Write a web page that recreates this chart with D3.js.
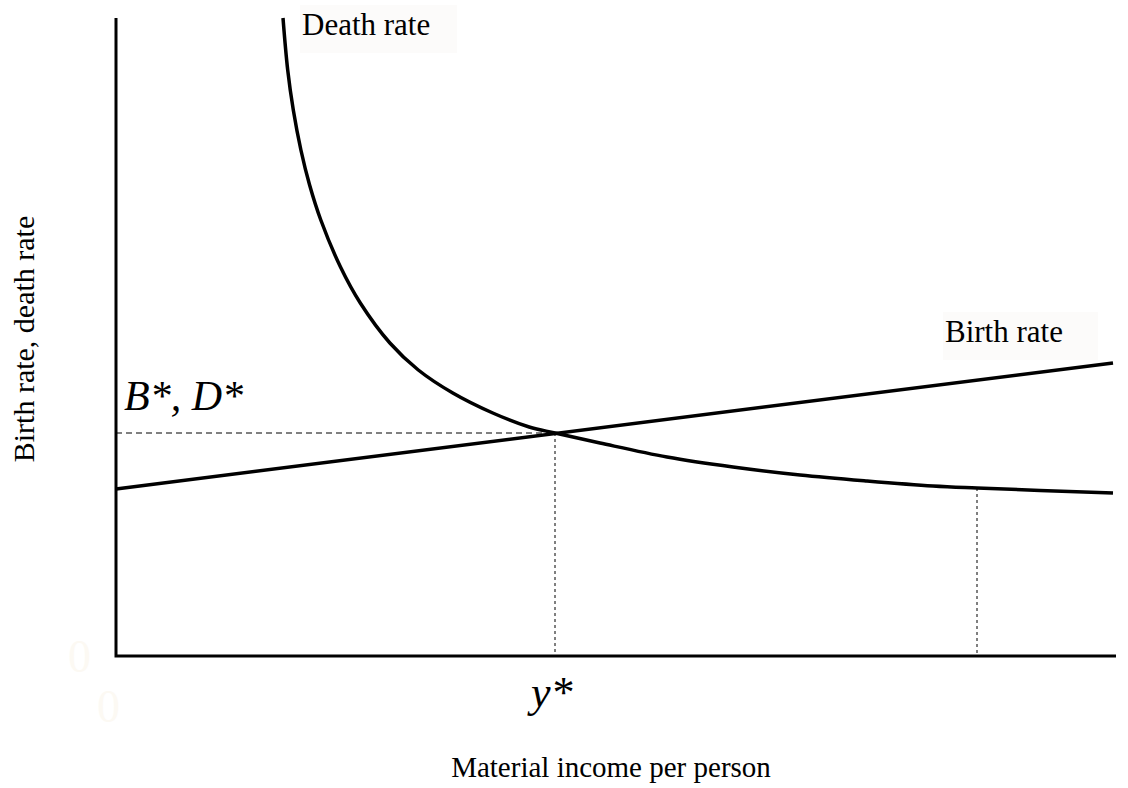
<!DOCTYPE html>
<html>
<head>
<meta charset="utf-8">
<script src="https://cdn.jsdelivr.net/npm/d3@7"></script>
<style>
  body { margin: 0; background: #fff; }
  svg { display: block; font-family: "Liberation Serif", "DejaVu Serif", serif; }
</style>
</head>
<body>
<svg class="chart" width="1128" height="788"></svg>
<script>
// income (x) and rate (y) in arbitrary units
var deathIncome = [16.7, 17.17, 17.73, 18.49, 19.36, 20.48, 22.45, 24.43, 27.39, 30.23, 33.68, 37.68, 41.32, 43.9, 48.4, 55.1, 61.7, 68.4, 75.1, 81.7, 86.1, 99.7];
var deathRate   = [63.8, 58.6, 54.6, 50.6, 47.1, 43.6, 38.9, 35.3, 31.3, 28.6, 26.3, 24.3, 22.9, 22.3, 21.3, 19.9, 18.9, 18.1, 17.5, 17.0, 16.8, 16.3];
var birthIncome = [0, 99.7];
var birthRate   = [16.7, 29.3];
var yStar = 43.9, rateStar = 22.3;
var yHigh = 86.1, rateHigh = 16.8;

var svg = d3.select("svg.chart");

var x = d3.scaleLinear().domain([0, 100]).range([116, 1116]),
    y = d3.scaleLinear().domain([0, 64]).range([656, 16]);

var line = d3.line()
    .x(function(d) { return x(d[0]); })
    .y(function(d) { return y(d[1]); });

var death = d3.zip(deathIncome, deathRate),
    birth = d3.zip(birthIncome, birthRate);

// faint leftover zeros
svg.append("text").attr("x", 68).attr("y", 672)
    .style("font-size", "46px").style("fill", "#fcf9f3").text("0");
svg.append("text").attr("x", 97).attr("y", 722)
    .style("font-size", "46px").style("fill", "#fcf9f3").text("0");

// guide lines
svg.append("path")
    .attr("d", line([[0, rateStar], [yStar, rateStar]]))
    .style("stroke", "#000").style("stroke-width", 1).style("stroke-dasharray", "6,4").style("fill", "none");
svg.append("path")
    .attr("d", line([[yStar, rateStar], [yStar, 0]]))
    .style("stroke", "#000").style("stroke-width", 1).style("stroke-dasharray", "3,3").style("fill", "none");
svg.append("path")
    .attr("d", line([[yHigh, rateHigh], [yHigh, 0]]))
    .style("stroke", "#000").style("stroke-width", 1).style("stroke-dasharray", "3,3").style("fill", "none");

// axes
svg.append("path")
    .attr("d", line([[0, 63.8], [0, 0], [100, 0]]))
    .style("stroke", "#000").style("stroke-width", 3).style("fill", "none");

// curves
svg.append("path")
    .attr("d", line.curve(d3.curveCatmullRom.alpha(0.5))(death))
    .style("stroke", "#000").style("stroke-width", 3.5).style("fill", "none");
svg.append("path")
    .attr("d", line.curve(d3.curveLinear)(birth))
    .style("stroke", "#000").style("stroke-width", 3.5).style("fill", "none");

// curve labels with their pale boxes
svg.append("rect").attr("x", 300).attr("y", 5).attr("width", 157).attr("height", 48).style("fill", "#fcfbfa");
svg.append("text").attr("x", 302).attr("y", 35)
    .style("font-size", "31px").text("Death rate");

svg.append("rect").attr("x", 943).attr("y", 312).attr("width", 155).attr("height", 48).style("fill", "#fcfbfa");
svg.append("text").attr("x", 945).attr("y", 342)
    .style("font-size", "31px").text("Birth rate");

// star labels
svg.append("text").attr("x", 124).attr("y", 410)
    .style("font-size", "42px").style("font-style", "italic").text("B*, D*");
svg.append("text").attr("x", 531).attr("y", 707)
    .style("font-size", "44px").style("font-style", "italic").text("y*");

// axis titles
svg.append("text").attr("x", 611).attr("y", 777)
    .attr("text-anchor", "middle")
    .style("font-size", "29px").text("Material income per person");
svg.append("text")
    .attr("transform", "translate(34,339) rotate(-90)")
    .attr("text-anchor", "middle")
    .style("font-size", "30px").text("Birth rate, death rate");
</script>
</body>
</html>
